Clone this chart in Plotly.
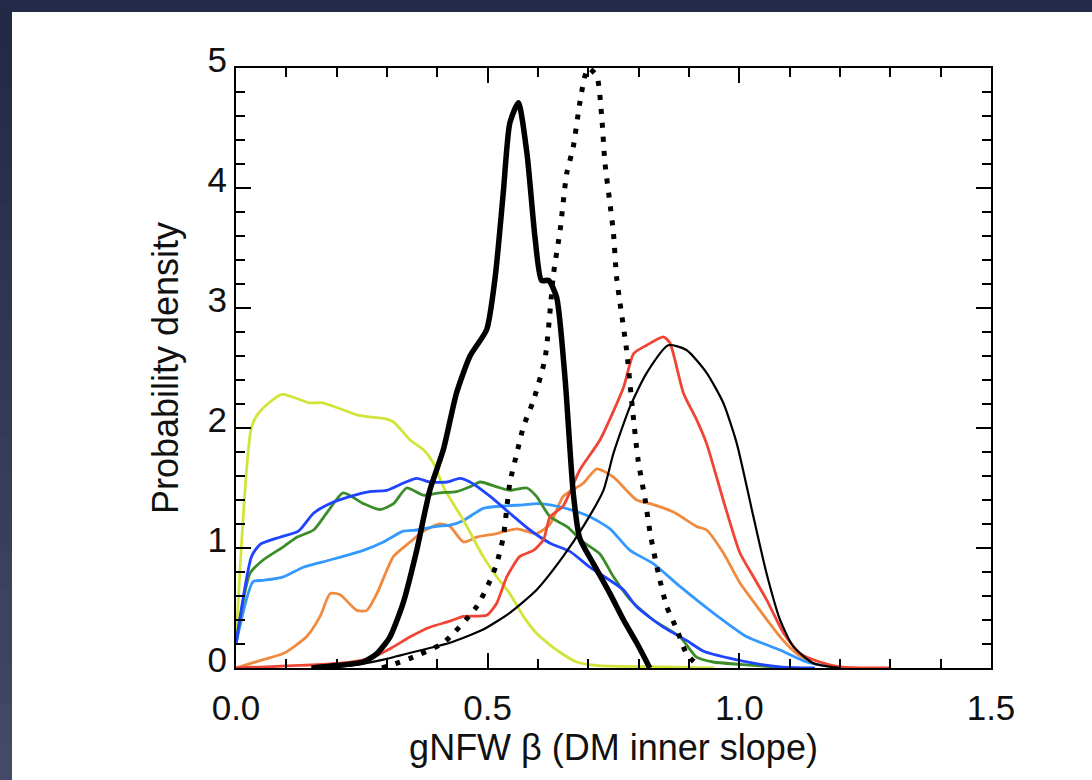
import plotly.graph_objects as go

# gNFW beta posteriors
yel_x = [0.0, 0.031, 0.048, 0.091, 0.145, 0.172, 0.207, 0.24, 0.27, 0.293, 0.313, 0.346, 0.372, 0.392, 0.412, 0.452, 0.491, 0.518, 0.544, 0.571, 0.597, 0.637, 0.677, 0.72, 0.85, 0.95]
yel_y = [0.2, 2.01, 2.14, 2.28, 2.21, 2.21, 2.16, 2.11, 2.09, 2.08, 2.05, 1.9, 1.82, 1.71, 1.51, 1.23, 0.93, 0.76, 0.62, 0.43, 0.29, 0.15, 0.05, 0.02, 0.01, 0.0]

blu_x = [0.0, 0.031, 0.048, 0.087, 0.124, 0.154, 0.187, 0.227, 0.266, 0.299, 0.332, 0.359, 0.385, 0.419, 0.445, 0.465, 0.505, 0.544, 0.584, 0.624, 0.664, 0.703, 0.743, 0.77, 0.796, 0.849, 0.895, 0.929, 0.982, 1.028, 1.08, 1.15]
blu_y = [0.2, 0.93, 1.03, 1.09, 1.14, 1.29, 1.37, 1.43, 1.47, 1.48, 1.54, 1.58, 1.55, 1.55, 1.58, 1.55, 1.43, 1.29, 1.15, 1.04, 0.97, 0.84, 0.73, 0.65, 0.51, 0.34, 0.23, 0.14, 0.08, 0.04, 0.01, 0.0]

grn_x = [0.0, 0.028, 0.054, 0.094, 0.121, 0.154, 0.18, 0.213, 0.253, 0.286, 0.313, 0.339, 0.372, 0.405, 0.438, 0.465, 0.485, 0.518, 0.544, 0.578, 0.597, 0.624, 0.657, 0.69, 0.723, 0.75, 0.783, 0.829, 0.882, 0.915, 0.948, 1.0, 1.1]
grn_y = [0.2, 0.79, 0.9, 1.01, 1.09, 1.15, 1.29, 1.46, 1.37, 1.32, 1.37, 1.5, 1.44, 1.46, 1.47, 1.51, 1.55, 1.51, 1.48, 1.5, 1.43, 1.26, 1.18, 1.05, 0.95, 0.76, 0.57, 0.4, 0.26, 0.09, 0.05, 0.03, 0.0]

lbl_x = [0.0, 0.034, 0.054, 0.094, 0.134, 0.187, 0.253, 0.293, 0.332, 0.359, 0.399, 0.425, 0.452, 0.491, 0.531, 0.571, 0.597, 0.624, 0.664, 0.703, 0.743, 0.783, 0.829, 0.882, 0.948, 1.015, 1.081, 1.134, 1.2]
lbl_y = [0.2, 0.72, 0.73, 0.76, 0.84, 0.9, 0.98, 1.05, 1.14, 1.15, 1.18, 1.19, 1.23, 1.33, 1.35, 1.36, 1.37, 1.36, 1.32, 1.26, 1.16, 0.98, 0.87, 0.68, 0.46, 0.26, 0.15, 0.05, 0.0]

org_x = [0.0, 0.054, 0.094, 0.14, 0.167, 0.187, 0.207, 0.24, 0.26, 0.28, 0.313, 0.346, 0.372, 0.405, 0.425, 0.452, 0.478, 0.518, 0.558, 0.597, 0.624, 0.65, 0.69, 0.717, 0.75, 0.796, 0.823, 0.869, 0.915, 0.935, 0.968, 1.001, 1.041, 1.081, 1.114, 1.147, 1.2]
org_y = [0.0, 0.07, 0.12, 0.26, 0.43, 0.62, 0.61, 0.48, 0.48, 0.62, 0.93, 1.05, 1.14, 1.2, 1.18, 1.05, 1.09, 1.12, 1.16, 1.12, 1.2, 1.43, 1.54, 1.66, 1.59, 1.4, 1.37, 1.3, 1.18, 1.15, 0.96, 0.71, 0.48, 0.26, 0.12, 0.04, 0.0]

red_x = [0.0, 0.207, 0.266, 0.306, 0.346, 0.385, 0.425, 0.452, 0.498, 0.518, 0.538, 0.564, 0.591, 0.611, 0.624, 0.65, 0.683, 0.723, 0.77, 0.79, 0.816, 0.849, 0.862, 0.889, 0.915, 0.935, 0.968, 1.001, 1.028, 1.054, 1.088, 1.121, 1.16, 1.2, 1.3]
red_y = [0.0, 0.04, 0.08, 0.16, 0.26, 0.34, 0.39, 0.43, 0.44, 0.54, 0.76, 0.93, 0.98, 1.07, 1.26, 1.35, 1.65, 1.9, 2.34, 2.62, 2.69, 2.76, 2.71, 2.29, 2.07, 1.87, 1.4, 0.96, 0.76, 0.57, 0.29, 0.12, 0.05, 0.01, 0.0]

thin_x = [0.15, 0.227, 0.293, 0.359, 0.425, 0.491, 0.544, 0.597, 0.65, 0.69, 0.73, 0.75, 0.783, 0.816, 0.859, 0.895, 0.935, 0.968, 0.995, 1.028, 1.054, 1.081, 1.107, 1.147, 1.2]
thin_y = [0.0, 0.02, 0.07, 0.14, 0.21, 0.32, 0.46, 0.65, 0.93, 1.18, 1.48, 1.79, 2.18, 2.46, 2.69, 2.65, 2.46, 2.21, 1.87, 1.26, 0.79, 0.4, 0.18, 0.04, 0.0]

thick_x = [0.15, 0.2, 0.253, 0.28, 0.306, 0.332, 0.359, 0.385, 0.412, 0.438, 0.465, 0.498, 0.515, 0.531, 0.544, 0.561, 0.578, 0.594, 0.607, 0.621, 0.637, 0.654, 0.67, 0.683, 0.71, 0.743, 0.77, 0.796, 0.816, 0.822]
thick_y = [0.0, 0.02, 0.05, 0.12, 0.26, 0.54, 0.98, 1.48, 1.82, 2.29, 2.6, 2.82, 3.26, 3.96, 4.54, 4.71, 4.29, 3.59, 3.23, 3.23, 3.09, 2.4, 1.46, 1.08, 0.87, 0.62, 0.4, 0.21, 0.05, 0.0]

dot_x = [0.29, 0.346, 0.412, 0.478, 0.505, 0.518, 0.531, 0.544, 0.558, 0.571, 0.591, 0.614, 0.631, 0.644, 0.657, 0.67, 0.683, 0.693, 0.7, 0.717, 0.727, 0.733, 0.743, 0.75, 0.756, 0.763, 0.776, 0.786, 0.799, 0.813, 0.823, 0.839, 0.856, 0.876, 0.895, 0.915]
dot_y = [0.0, 0.08, 0.21, 0.51, 0.73, 0.87, 1.09, 1.54, 1.79, 2.01, 2.23, 2.58, 3.29, 3.65, 4.12, 4.34, 4.71, 4.93, 5.0, 4.93, 4.57, 4.21, 3.87, 3.62, 3.26, 3.04, 2.65, 2.23, 1.73, 1.4, 1.12, 0.79, 0.51, 0.32, 0.12, 0.03]

x_ticks = [0.0, 0.5, 1.0, 1.5]
x_labels = ["0.0", "0.5", "1.0", "1.5"]
y_ticks = [0, 1, 2, 3, 4, 5]

fig = go.Figure()

def add_line(xs, ys, color, width, dash="solid"):
    fig.add_trace(go.Scatter(x=xs, y=ys, mode="lines",
                             line=dict(color=color, width=width, dash=dash, shape="spline", smoothing=0.6),
                             showlegend=False, hoverinfo="skip"))

add_line(org_x, org_y, "#ef8a3e", 2.8)
add_line(lbl_x, lbl_y, "#3399ff", 2.8)
add_line(yel_x, yel_y, "#d2e43a", 2.8)
add_line(grn_x, grn_y, "#3c8c2a", 2.8)
add_line(blu_x, blu_y, "#1f44ff", 2.8)
add_line(red_x, red_y, "#f04434", 2.8)
add_line(thin_x, thin_y, "black", 2.2)
add_line(dot_x, dot_y, "black", 5, dash="5px,9px")
add_line(thick_x, thick_y, "black", 5.5)

# page background: dark frame on top/left, white panel
shapes = [dict(type="rect", xref="paper", yref="paper", x0=-0.2967, x1=1.14, y0=-0.19, y1=1.0933,
               fillcolor="white", line_width=0, layer="below")]
n = 20
for i in range(n):
    t = i / (n - 1)
    r = int(0x22 + t * (0x42 - 0x22))
    g = int(0x2a + t * (0x4a - 0x2a))
    b = int(0x48 + t * (0x68 - 0x48))
    y0 = 1.0933 - (i + 1) * (1.0933 + 0.19) / n
    y1 = 1.0933 - i * (1.0933 + 0.19) / n
    shapes.append(dict(type="rect", xref="paper", yref="paper", x0=-0.33, x1=-0.2967, y0=y0, y1=y1 + 0.002,
                       fillcolor=f"rgb({r},{g},{b})", line_width=0, layer="below"))

font = "Liberation Sans, Arial, Helvetica, sans-serif"
fig.update_layout(
    width=1092, height=780,
    margin=dict(l=236, r=101, t=68, b=112),
    paper_bgcolor="#232b49", plot_bgcolor="white",
    shapes=shapes,
    font=dict(family=font, color="#111111"),
    xaxis=dict(range=[0, 1.5], tickvals=x_ticks, ticktext=x_labels, ticks="inside", ticklen=15,
               tickwidth=1.5, tickcolor="black", showline=True, linecolor="black", linewidth=2,
               mirror="ticks", showgrid=False, zeroline=False, tickfont=dict(size=35), ticklabelstandoff=8,
               minor=dict(dtick=0.1, ticks="inside", ticklen=9, tickcolor="black", tickwidth=1.5, showgrid=False),
               title=dict(text="gNFW β (DM inner slope)", font=dict(size=36), standoff=8)),
    yaxis=dict(range=[0, 5], tickvals=y_ticks, ticks="inside", ticklen=15, tickwidth=1.5,
               tickcolor="black", showline=True, linecolor="black", linewidth=2, mirror="ticks",
               showgrid=False, zeroline=False, tickfont=dict(size=35), ticklabelshift=-8,
               minor=dict(dtick=0.2, ticks="inside", ticklen=9, tickcolor="black", tickwidth=1.5, showgrid=False),
               title=dict(text="Probability density", font=dict(size=36), standoff=18)),
)

fig.write_html("out.html", config={"displayModeBar": False},
               post_script="document.body.style.margin='0';")
